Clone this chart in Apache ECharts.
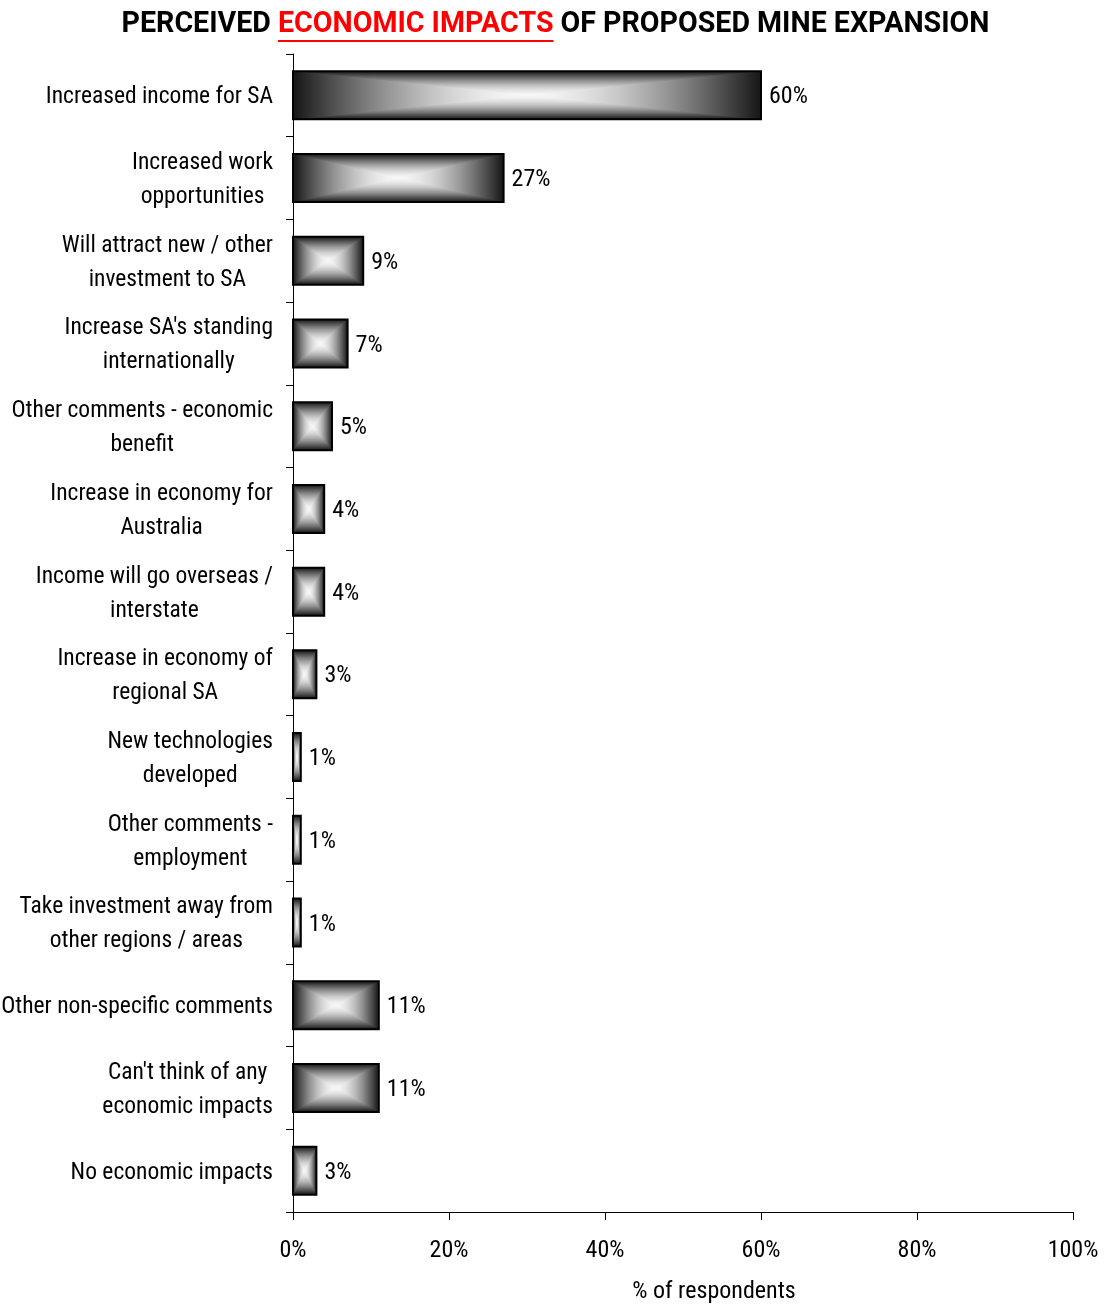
<!DOCTYPE html>
<html>
<head>
<meta charset="utf-8">
<script src="https://cdn.jsdelivr.net/npm/echarts@6/dist/echarts.min.js"></script>
<style>
  html, body { margin: 0; padding: 0; background: #ffffff; }
  #chart { width: 1111px; height: 1304px; }
</style>
</head>
<body>
<div id="chart"></div>
<script>
// Survey responses: perceived economic impacts (share of respondents, %)
const categories = [
  'Increased income for SA',
  'Increased work\nopportunities',
  'Will attract new / other\ninvestment to SA',
  "Increase SA's standing\ninternationally",
  'Other comments - economic\nbenefit',
  'Increase in economy for\nAustralia',
  'Income will go overseas /\ninterstate',
  'Increase in economy of\nregional SA',
  'New technologies\ndeveloped',
  'Other comments -\nemployment',
  'Take investment away from\nother regions / areas',
  'Other non-specific comments',
  "Can't think of any\neconomic impacts",
  'No economic impacts'
];
const percentRespondents = [60, 27, 9, 7, 5, 4, 4, 3, 1, 1, 1, 11, 11, 3];

const titleParts = ['PERCEIVED ', 'ECONOMIC IMPACTS', ' OF PROPOSED MINE EXPANSION'];
const axisTitle = '% of respondents';

const FONT = '"Roboto Condensed", "Liberation Sans Narrow", sans-serif';
const TITLE_FONT = 'Roboto, "Liberation Sans", sans-serif';
const TITLE_SIZE = 28.6;
const WIDTH = 1111;

// gradient from dark rim (offset 0) to near-white centre (offset 1)
const boxStops = [
  { offset: 0.0, color: '#161616' },
  { offset: 0.1, color: '#383838' },
  { offset: 0.2, color: '#595959' },
  { offset: 0.3, color: '#787878' },
  { offset: 0.4, color: '#959595' },
  { offset: 0.5, color: '#aeaeae' },
  { offset: 0.6, color: '#c5c5c5' },
  { offset: 0.7, color: '#d8d8d8' },
  { offset: 0.8, color: '#e7e7e7' },
  { offset: 0.9, color: '#f2f2f2' },
  { offset: 1.0, color: '#f8f8f8' }
];

// A bar filled with a rectangular "from centre" gradient:
// two half-height rects with vertical gradients, then two side triangles
// with horizontal gradients laid over them.
function renderBoxBar(params, api) {
  const v = api.value(0);
  const idx = api.value(1);
  const start = api.coord([0, idx]);
  const end = api.coord([v, idx]);
  const band = api.size([0, 1])[1];
  const h = band * 0.58;
  const x0 = start[0], x1 = end[0], yc = start[1];
  const y0 = yc - h / 2, y1 = yc + h / 2;
  const w = x1 - x0, xc = (x0 + x1) / 2;
  const lin = (x, y, x2, y2) => ({ type: 'linear', x, y, x2, y2, colorStops: boxStops });
  return {
    type: 'group',
    children: [
      { type: 'rect', shape: { x: x0, y: y0, width: w, height: h / 2 + 0.5 },
        style: { fill: lin(0, 0, 0, 1) } },
      { type: 'rect', shape: { x: x0, y: yc - 0.5, width: w, height: h / 2 + 0.5 },
        style: { fill: lin(0, 1, 0, 0) } },
      { type: 'polygon', shape: { points: [[x0, y0], [xc, yc], [x0, y1]] },
        style: { fill: lin(0, 0, 1, 0) } },
      { type: 'polygon', shape: { points: [[x1, y0], [xc, yc], [x1, y1]] },
        style: { fill: lin(1, 0, 0, 0) } },
      { type: 'rect', shape: { x: x0, y: y0, width: w, height: h },
        style: { fill: null, stroke: '#000000', lineWidth: 2 } },
      { type: 'text', x: x1 + 8, y: yc + 2,
        style: { text: v + '%', fill: '#000000', font: '24px ' + FONT,
                 align: 'left', verticalAlign: 'middle' } }
    ]
  };
}

// position of the underline below the red part of the title
const measureCtx = document.createElement('canvas').getContext('2d');
measureCtx.font = 'bold ' + TITLE_SIZE + 'px ' + TITLE_FONT;
const wFirst = measureCtx.measureText(titleParts[0]).width;
const wRed = measureCtx.measureText(titleParts[1]).width;
const wAll = measureCtx.measureText(titleParts.join('')).width;
const titleLeft = WIDTH / 2 - wAll / 2;

const chart = echarts.init(document.getElementById('chart'), null, { renderer: 'canvas' });

chart.setOption({
  backgroundColor: '#ffffff',
  animation: false,
  title: {
    left: 'center',
    top: 3,
    text: '{a|' + titleParts[0] + '}{r|' + titleParts[1] + '}{a|' + titleParts[2] + '}',
    textStyle: {
      rich: {
        a: { fontFamily: TITLE_FONT, fontSize: TITLE_SIZE, fontWeight: 'bold', color: '#000000', lineHeight: 34 },
        r: { fontFamily: TITLE_FONT, fontSize: TITLE_SIZE, fontWeight: 'bold', color: '#ff0000', lineHeight: 34 }
      }
    }
  },
  graphic: [{
    type: 'line',
    shape: { x1: titleLeft + wFirst, y1: 41, x2: titleLeft + wFirst + wRed, y2: 41 },
    style: { stroke: '#ff0000', lineWidth: 2 }
  }],
  grid: { left: 293, right: 38, top: 54, bottom: 92, containLabel: false, outerBoundsMode: 'none' },
  xAxis: {
    type: 'value',
    min: 0,
    max: 100,
    interval: 20,
    name: axisTitle,
    nameLocation: 'middle',
    nameGap: 68,
    nameTextStyle: {
      fontFamily: FONT, fontSize: 24, color: '#000000',
      padding: [0, 0, 0, 62], verticalAlign: 'top'
    },
    axisLine: { show: true, lineStyle: { color: '#000000', width: 1 } },
    axisTick: { show: true, length: 8, lineStyle: { color: '#000000' } },
    axisLabel: { formatter: '{value}%', margin: 27, fontFamily: FONT, fontSize: 24, color: '#000000' },
    splitLine: { show: false }
  },
  yAxis: {
    type: 'category',
    inverse: true,
    data: categories,
    axisLine: { show: true, lineStyle: { color: '#000000', width: 1 } },
    axisTick: { show: true, length: 7, lineStyle: { color: '#000000' } },
    axisLabel: {
      margin: 20,
      align: 'right',
      padding: [4, 0, 0, 0],
      formatter: (val) => val.split('\n').map(l => '{c|' + l + '}').join('\n'),
      rich: {
        c: { align: 'center', fontFamily: FONT, fontSize: 23.5, lineHeight: 34, color: '#000000' }
      }
    }
  },
  series: [{
    type: 'custom',
    renderItem: renderBoxBar,
    encode: { x: 0, y: 1 },
    data: percentRespondents.map((v, i) => [v, i])
  }]
});
</script>
</body>
</html>
